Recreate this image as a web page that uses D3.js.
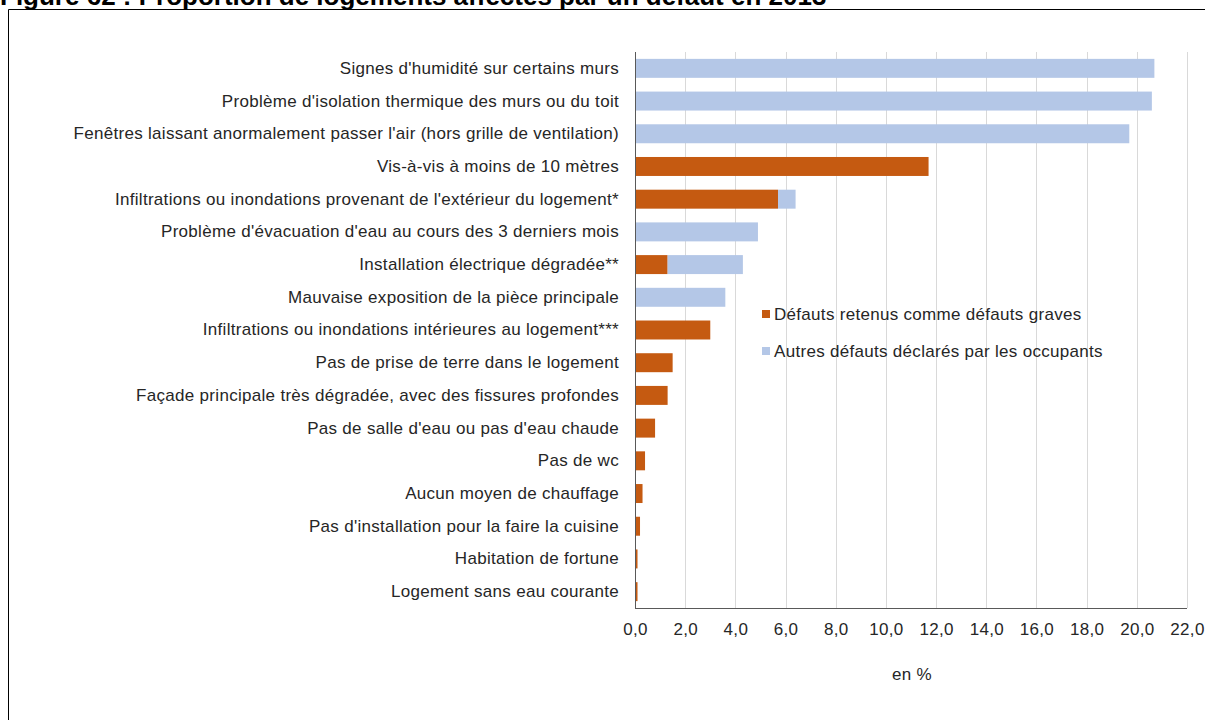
<!DOCTYPE html>
<html>
<head>
<meta charset="utf-8">
<script src="https://cdn.jsdelivr.net/npm/d3@7"></script>
<style>
  html, body { margin: 0; padding: 0; background: #fff; }
  svg { display: block; font-family: "Liberation Sans", Arial, sans-serif; }
</style>
</head>
<body>
<svg id="chart" width="1205" height="720"></svg>
<script>
// Categories, top to bottom
const categories = [
  "Signes d'humidité sur certains murs",
  "Problème d'isolation thermique des murs ou du toit",
  "Fenêtres laissant anormalement passer l'air (hors grille de ventilation)",
  "Vis-à-vis à moins de 10 mètres",
  "Infiltrations ou inondations provenant de l'extérieur du logement*",
  "Problème d'évacuation d'eau au cours des 3 derniers mois",
  "Installation électrique dégradée**",
  "Mauvaise exposition de la pièce principale",
  "Infiltrations ou inondations intérieures au logement***",
  "Pas de prise de terre dans le logement",
  "Façade principale très dégradée, avec des fissures profondes",
  "Pas de salle d'eau ou pas d'eau chaude",
  "Pas de wc",
  "Aucun moyen de chauffage",
  "Pas d'installation pour la faire la cuisine",
  "Habitation de fortune",
  "Logement sans eau courante"
];

// Share of dwellings (%) — serious defects
const graves = [0, 0, 0, 11.7, 5.7, 0, 1.3, 0, 3.0, 1.5, 1.3, 0.8, 0.4, 0.3, 0.2, 0.1, 0.1];
// Share of dwellings (%) — other defects reported by occupants
const autres = [20.7, 20.6, 19.7, 0, 0.7, 4.9, 3.0, 3.6, 0, 0, 0, 0, 0, 0, 0, 0, 0];

const seriesNames = ["Défauts retenus comme défauts graves", "Autres défauts déclarés par les occupants"];
const seriesColors = ["#C55A11", "#B4C7E7"];

const xTicks = [0, 2, 4, 6, 8, 10, 12, 14, 16, 18, 20, 22];
const title = "Figure 62 : Proportion de logements affectés par un défaut en 2013";
const xAxisTitle = "en %";

const textColor = "#262626";
const fontSize = 17;
const spacing = "0.3px";

const svg = d3.select("#chart");

// Frame around the figure
svg.append("path")
  .attr("d", "M8.5,730 L8.5,9.5 L1215,9.5")
  .attr("fill", "none")
  .attr("stroke", "#000")
  .attr("stroke-width", 1);

// Figure title
svg.append("text")
  .attr("x", 0)
  .attr("y", 5)
  .attr("font-size", 26)
  .attr("font-weight", "bold")
  .attr("fill", "#000")
  .text(title);

const plot = { left: 635, right: 1187, top: 52, bottom: 608 };

const x = d3.scaleLinear().domain([0, 22]).range([plot.left, plot.right]);
const y = d3.scaleBand().domain(categories).range([plot.top, plot.bottom]).paddingInner(0.42).paddingOuter(0.21);

// Vertical gridlines
svg.append("g")
  .selectAll("line")
  .data(xTicks.slice(1))
  .join("line")
  .attr("x1", d => Math.round(x(d)) + 0.5)
  .attr("x2", d => Math.round(x(d)) + 0.5)
  .attr("y1", plot.top)
  .attr("y2", plot.bottom)
  .attr("stroke", "#D9D9D9")
  .attr("stroke-width", 1);

// Stacked bars
const rows = categories.map((c, i) => ({ cat: c, graves: graves[i], autres: autres[i] }));
const stack = d3.stack().keys(["graves", "autres"]);
const stacked = stack(rows);

svg.append("g")
  .selectAll("g")
  .data(stacked)
  .join("g")
  .attr("fill", (d, i) => seriesColors[i])
  .selectAll("rect")
  .data(d => d)
  .join("rect")
  .attr("x", d => x(d[0]))
  .attr("y", d => y(d.data.cat))
  .attr("width", d => Math.max(0, x(d[1]) - x(d[0])))
  .attr("height", y.bandwidth());

// Legend, placed inside the plot area
const legend = svg.append("g").attr("transform", "translate(762,0)");
seriesNames.forEach((name, i) => {
  const cy = 314 + i * 37;
  legend.append("rect")
    .attr("x", 0).attr("y", cy - 4)
    .attr("width", 8).attr("height", 8)
    .attr("fill", seriesColors[i]);
  legend.append("text")
    .attr("x", 12).attr("y", cy)
    .attr("dy", "0.35em")
    .attr("font-size", fontSize)
    .attr("letter-spacing", spacing)
    .attr("fill", textColor)
    .text(name);
});

// Y axis: category labels and vertical axis line
const yAxis = svg.append("g")
  .attr("transform", `translate(${plot.left},0)`)
  .call(d3.axisLeft(y).tickSize(0).tickPadding(16));
yAxis.select(".domain").attr("stroke", "#595959").attr("d", `M0.5,${plot.top}V${plot.bottom}`);
yAxis.selectAll("text")
  .attr("font-size", fontSize)
  .attr("letter-spacing", spacing)
  .attr("font-family", "\"Liberation Sans\", Arial, sans-serif")
  .attr("fill", textColor);

// X axis
const xAxis = svg.append("g")
  .attr("transform", `translate(0,${plot.bottom})`)
  .call(d3.axisBottom(x).tickValues(xTicks).tickSize(0).tickPadding(15)
    .tickFormat(d => d3.format(".1f")(d).replace(".", ",")));
xAxis.select(".domain").attr("stroke", "#595959").attr("d", `M${plot.left},0.5H${plot.right}`);
xAxis.selectAll("text")
  .attr("font-size", fontSize)
  .attr("letter-spacing", spacing)
  .attr("font-family", "\"Liberation Sans\", Arial, sans-serif")
  .attr("fill", textColor);

// Axis title
svg.append("text")
  .attr("x", 912)
  .attr("y", 674)
  .attr("text-anchor", "middle")
  .attr("dy", "0.35em")
  .attr("font-size", fontSize)
  .attr("letter-spacing", spacing)
  .attr("fill", textColor)
  .text(xAxisTitle);
</script>
</body>
</html>
